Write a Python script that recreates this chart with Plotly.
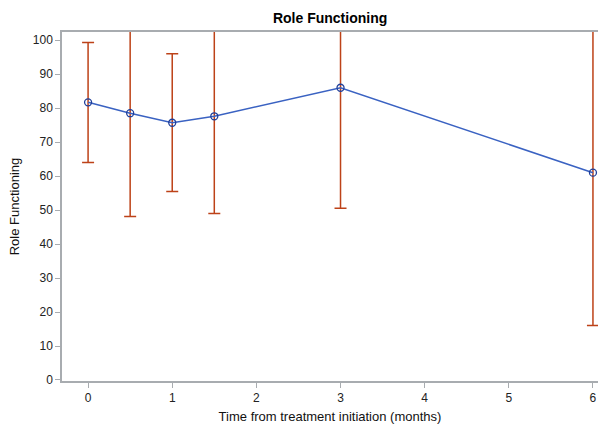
import plotly.graph_objects as go

time_months = [0, 0.5, 1, 1.5, 3, 6]
mean_score = [81.7, 78.5, 75.7, 77.6, 86.0, 61.0]
ci_lower = [64.0, 48.1, 55.5, 49.0, 50.5, 16.0]
ci_upper = [99.3, 108.9, 96.0, 106.2, 121.5, 106.0]

err_plus = [u - m for u, m in zip(ci_upper, mean_score)]
err_minus = [m - l for m, l in zip(mean_score, ci_lower)]

FONT = "Liberation Sans, Arial, sans-serif"

fig = go.Figure()
fig.add_trace(go.Scatter(
    x=time_months, y=mean_score, mode="lines+markers",
    line=dict(color="#3a62c2", width=1.5),
    marker=dict(symbol="circle-open", size=7, color="#1f3f9a", line=dict(width=1.3)),
    error_y=dict(type="data", symmetric=False, array=err_plus, arrayminus=err_minus,
                 color="#bd4218", thickness=1.5, width=6),
    showlegend=False,
))

axis_common = dict(
    showline=True, linecolor="#a8acb0", linewidth=1.5, ticks="outside",
    tickcolor="#a8acb0", ticklen=5, showgrid=False, zeroline=False,
    tickfont=dict(family=FONT, size=12, color="#222"),
)
fig.update_xaxes(**axis_common, range=[-0.31, 6.06], tickvals=[0, 1, 2, 3, 4, 5, 6],
                 mirror=True, automargin=False,
                 title=dict(text="Time from treatment initiation (months)",
                            font=dict(family=FONT, size=13, color="#111"),
                            standoff=8))
fig.update_yaxes(**axis_common, range=[-0.3, 102.4], tickvals=list(range(0, 101, 10)),
                 automargin=False,
                 title=dict(text="Role Functioning",
                            font=dict(family=FONT, size=13, color="#111"),
                            standoff=10))
fig.update_layout(
    width=598, height=426,
    margin=dict(l=62, r=0, t=32, b=45),
    plot_bgcolor="white", paper_bgcolor="white",
    title=dict(text="<b>Role Functioning</b>", x=0.552, xanchor="center", y=0.958, yanchor="middle",
               font=dict(family=FONT, size=14, color="#000")),
)
fig.write_html("out.html", config={"displayModeBar": False},
               post_script="document.body.style.margin='0';document.body.style.overflow='hidden';")
